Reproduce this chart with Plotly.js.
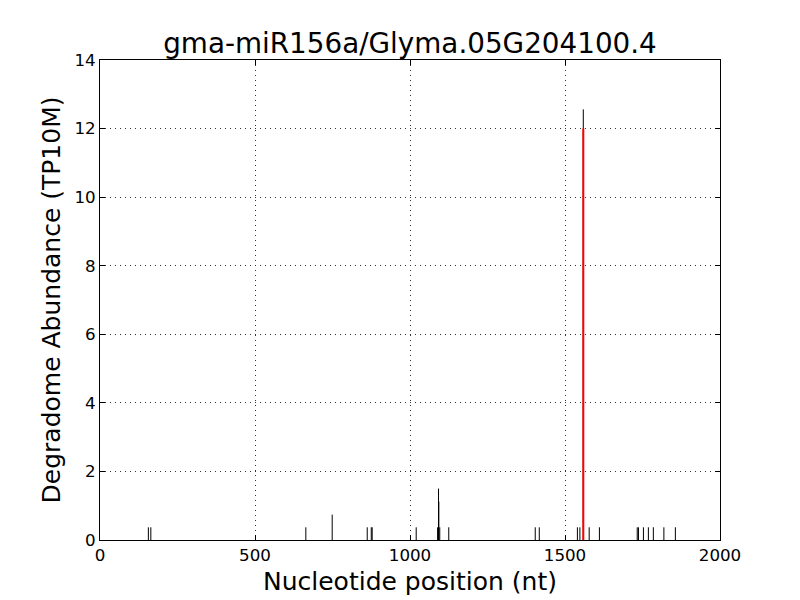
<!DOCTYPE html>
<html>
<head>
<meta charset="utf-8">
<script src="https://cdn.plot.ly/plotly-3.0.1.min.js"></script>
<style>body{margin:0;background:#fff;} #chart{width:800px;height:600px;}</style>
</head>
<body>
<div id="chart"></div>
<script>
// Degradome tag positions (nt) and abundances (TP10M)
const positions = [156, 164, 664, 749, 862, 875, 878, 1020, 1089, 1092, 1093, 1096, 1125, 1404, 1417, 1540, 1548, 1559, 1578, 1611, 1733, 1737, 1753, 1769, 1785, 1819, 1856];
const abundances = [0.37, 0.37, 0.37, 0.74, 0.37, 0.37, 0.37, 0.37, 0.37, 1.5, 1.12, 0.37, 0.37, 0.37, 0.37, 0.37, 0.37, 12.56, 0.37, 0.37, 0.37, 0.37, 0.37, 0.37, 0.37, 0.37, 0.37];
// Predicted cleavage site
const cleavePos = [1559];
const cleaveVal = [12];

const xTicks = [0, 500, 1000, 1500, 2000];
const yTicks = [0, 2, 4, 6, 8, 10, 12, 14];

function stems(xs, ys) {
  const X = [], Y = [];
  xs.forEach((x, i) => { X.push(x, x, null); Y.push(0, ys[i], null); });
  return {X, Y};
}
const s1 = stems(positions, abundances);
const s2 = stems(cleavePos, cleaveVal);

const font = 'DejaVu Sans, sans-serif';
const data = [
  {x: s1.X, y: s1.Y, type: 'scatter', mode: 'lines', line: {color: '#000', width: 1}, hoverinfo: 'skip', showlegend: false},
  {x: s2.X, y: s2.Y, type: 'scatter', mode: 'lines', line: {color: '#ff0000', width: 2}, hoverinfo: 'skip', showlegend: false}
];
const layout = {
  width: 800, height: 600,
  margin: {l: 100, r: 80, t: 60, b: 60},
  paper_bgcolor: '#fff', plot_bgcolor: '#fff',
  title: {text: 'gma-miR156a/Glyma.05G204100.4', font: {family: font, size: 27.8, color: '#000'},
          x: 410/800, xanchor: 'center', xref: 'container', y: (600-43)/600, yanchor: 'middle', yref: 'container'},
  xaxis: {range: [0, 2000], tickvals: xTicks, ticktext: xTicks.map(String), ticks: 'inside', ticklen: 5, tickcolor: '#000',
          mirror: 'allticks', showline: true, linecolor: '#000', linewidth: 1, zeroline: false,
          showgrid: true, gridcolor: '#333', griddash: '1px,4px', gridwidth: 1,
          tickfont: {family: font, size: 16.7, color: '#000'},
          title: {text: 'Nucleotide position (nt)', font: {family: font, size: 25, color: '#000'}, standoff: 8}},
  yaxis: {range: [0, 14], tickvals: yTicks, ticktext: yTicks.map(String), ticks: 'inside', ticklen: 5, tickcolor: '#000',
          mirror: 'allticks', showline: true, linecolor: '#000', linewidth: 1, zeroline: false,
          showgrid: true, gridcolor: '#333', griddash: '1px,4px', gridwidth: 1,
          tickfont: {family: font, size: 16.7, color: '#000'},
          title: {text: 'Degradome Abundance (TP10M)', font: {family: font, size: 25, color: '#000'}, standoff: 6}}
};
Plotly.newPlot('chart', data, layout, {staticPlot: true});
</script>
</body>
</html>
